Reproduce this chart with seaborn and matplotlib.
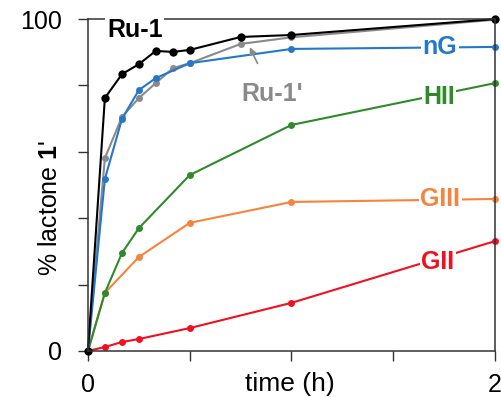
import pandas as pd
import matplotlib
matplotlib.use("Agg")
import matplotlib.pyplot as plt
import seaborn as sns

# reaction times (h) and % lactone for each catalyst
t_ru1 = [0, 0.083, 0.167, 0.25, 0.333, 0.417, 0.5, 0.75, 1.0, 2.0]
y_ru1 = [0, 76.2, 83.4, 86.4, 90.4, 90.1, 90.7, 94.6, 95.2, 100]

t_ru1p = [0, 0.083, 0.167, 0.25, 0.333, 0.417, 0.5, 0.75, 1.0, 2.0]
y_ru1p = [0, 58.1, 70.5, 76.2, 80.7, 85.2, 86.7, 92.5, 94.5, 99.8]

t_ng = [0, 0.083, 0.167, 0.25, 0.333, 0.5, 1.0, 2.0]
y_ng = [0, 51.8, 69.9, 78.6, 82.2, 86.7, 91.0, 91.6]

t_hii = [0, 0.083, 0.167, 0.25, 0.5, 1.0, 2.0]
y_hii = [0, 17.5, 29.5, 37.0, 53.0, 68.1, 80.7]

t_giii = [0, 0.083, 0.25, 0.5, 1.0, 2.0]
y_giii = [0, 17.5, 28.3, 38.6, 44.9, 45.8]

t_gii = [0, 0.083, 0.167, 0.25, 0.5, 1.0, 2.0]
y_gii = [0, 1.2, 2.7, 3.6, 6.9, 14.5, 33.1]

sns.set_style("ticks")
plt.rcParams['font.family'] = ['Liberation Sans', 'DejaVu Sans']
plt.rcParams['mathtext.fontset'] = 'custom'
plt.rcParams['mathtext.bf'] = 'Liberation Sans:bold'
plt.rcParams['mathtext.rm'] = 'Liberation Sans'
plt.rcParams['text.color'] = 'black'
plt.rcParams['axes.labelcolor'] = 'black'
plt.rcParams['xtick.labelcolor'] = 'black'
plt.rcParams['ytick.labelcolor'] = 'black'

fig = plt.figure(figsize=(5.01, 3.97), dpi=100)
ax = fig.add_axes([0.1756, 0.1159, 0.8124, 0.8361])

series = [
    (t_gii, y_gii, "#f01020", 5),
    (t_giii, y_giii, "#f5843c", 5),
    (t_hii, y_hii, "#2f8a2a", 5),
    (t_ru1p, y_ru1p, "#8a8a8a", 5),
    (t_ng, y_ng, "#2478cc", 5),
    (t_ru1, y_ru1, "black", 6),
]
for t, y, c, ms in series:
    df = pd.DataFrame({"t": t, "y": y})
    sns.lineplot(data=df, x="t", y="y", color=c, marker="o", markersize=ms,
                 markeredgewidth=0, linewidth=1.5, ax=ax, clip_on=False)

ax.set_xlim(0, 2)
ax.set_ylim(0, 100)
ax.set_xticks([0, 0.5, 1, 1.5, 2])
ax.set_xticklabels(["0", "", "", "", "2"])
ax.set_yticks([0, 20, 40, 60, 80, 100])
ax.set_yticklabels(["0", "", "", "", "", "100"])
ax.tick_params(labelsize=18, length=7, width=1, color="#333333", labelcolor="black")
ax.tick_params(axis="y", pad=12)
ax.tick_params(axis="x", pad=9)
for s in ax.spines.values():
    s.set_linewidth(1.1)
    s.set_color("#333333")

ax.set_xlabel("time (h)", fontsize=19)
ax.xaxis.set_label_coords(0.497, -0.062)
ax.set_ylabel(r"% lactone $\mathbf{1}$'", fontsize=18)
ax.yaxis.set_label_coords(-0.063, 0.43)

box = dict(facecolor="white", edgecolor="none", pad=1)
lab = dict(fontsize=18, fontweight="bold", ha="center", va="center", bbox=box, zorder=5)
ax.text(0.23, 96.7, "Ru-1", color="black", **lab)
ax.text(1.73, 91.6, "nG", color="#2478cc", **lab)
ax.text(1.725, 76.5, "HII", color="#2f8a2a", **lab)
ax.text(1.73, 45.8, "GIII", color="#f5843c", **lab)
ax.text(1.72, 26.8, "GII", color="#f01020", **lab)
ax.annotate("Ru-1'", xy=(0.795, 91.5), xytext=(0.905, 77.5),
            color="#8a8a8a", fontsize=18, fontweight="bold", ha="center", va="center",
            arrowprops=dict(arrowstyle="-|>", color="#8a8a8a", lw=1.2,
                            shrinkA=12, shrinkB=0, mutation_scale=10), zorder=5)

fig.savefig("out.png", dpi=100)
